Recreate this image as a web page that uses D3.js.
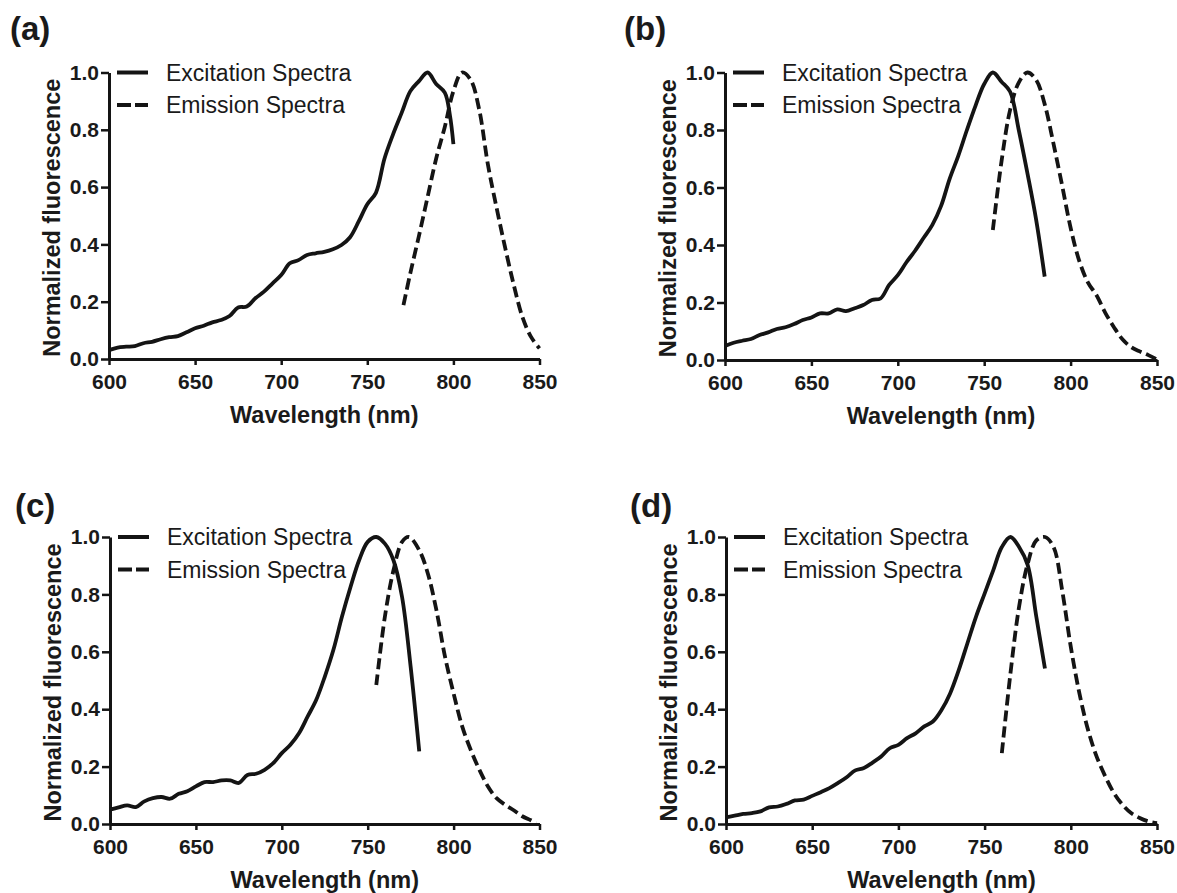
<!DOCTYPE html>
<html>
<head>
<meta charset="utf-8">
<script src="https://cdn.jsdelivr.net/npm/d3@7"></script>
<style>
  body { margin: 0; background: #fff; }
  text { font-family: "Liberation Sans", Arial, sans-serif; fill: #1a1a1a; }
</style>
</head>
<body>
<svg id="chart" width="1177" height="893"></svg>
<script>
// Tick values shared by all four panels
const xTicks = [600, 650, 700, 750, 800, 850];
const yTicks = [0.0, 0.2, 0.4, 0.6, 0.8, 1.0];
const seriesNames = ['Excitation Spectra', 'Emission Spectra'];

// Panel (a)
const exWlA = [600,605,610,615,620,625,630,635,640,645,650,655,660,665,670,675,680,685,690,695,700,705,710,715,720,725,730,735,740,745,750,755,760,765,770,775,780,785,790,795,798,800];
const exValA = [.031,.040,.043,.045,.055,.060,.069,.076,.080,.093,.107,.116,.128,.136,.150,.180,.183,.212,.235,.264,.293,.334,.345,.363,.369,.374,.383,.398,.425,.480,.540,.580,.700,.785,.860,.935,.970,1.0,.960,.930,.850,.750];
const emWlA = [771,775,780,785,790,795,800,805,810,815,820,825,830,835,840,845,850];
const emValA = [.188,.300,.430,.565,.700,.810,.935,1.0,.975,.870,.680,.530,.390,.260,.148,.078,.037];

// Panel (b)
const exWlB = [600,605,610,615,620,625,630,635,640,645,650,655,660,665,670,675,680,685,690,695,700,705,710,715,720,725,730,735,740,745,750,755,760,765,770,775,780,785];
const exValB = [.049,.060,.067,.073,.087,.096,.108,.114,.125,.139,.148,.162,.162,.176,.170,.180,.191,.209,.214,.261,.295,.340,.380,.425,.470,.535,.630,.710,.800,.885,.960,1.0,.968,.933,.800,.650,.490,.290];
const emWlB = [755,760,765,770,775,780,785,790,795,800,805,810,815,820,825,830,835,840,845,850];
const emValB = [.452,.690,.870,.965,1.0,.975,.890,.755,.610,.460,.345,.270,.225,.165,.115,.072,.045,.030,.017,.002];

// Panel (c)
const exWlC = [600,605,610,615,620,625,630,635,640,645,650,655,660,665,670,675,680,685,690,695,700,705,710,715,720,725,730,735,740,745,750,755,760,765,770,775,780];
const exValC = [.050,.058,.065,.059,.079,.090,.094,.088,.105,.114,.131,.146,.146,.152,.152,.143,.171,.175,.189,.212,.247,.276,.316,.374,.432,.513,.606,.722,.826,.919,.983,1.0,.977,.919,.791,.548,.253];
const emWlC = [755,760,765,770,774,780,785,790,795,800,805,810,815,820,825,830,835,840,845,848];
const emValC = [.484,.722,.884,.983,1.0,.954,.873,.745,.583,.455,.340,.258,.189,.131,.090,.067,.048,.027,.013,.003];

// Panel (d)
const exWlD = [600,605,610,615,620,625,630,635,640,645,650,655,660,665,670,675,680,685,690,695,700,705,710,715,720,725,730,735,740,745,750,755,760,765,770,775,780,785];
const exValD = [.023,.029,.035,.038,.044,.058,.061,.070,.082,.085,.098,.111,.125,.143,.163,.187,.195,.214,.235,.264,.276,.299,.316,.340,.357,.397,.455,.536,.629,.722,.803,.884,.965,1.0,.965,.902,.722,.542];
const emWlD = [760,765,770,775,780,785,790,795,800,805,810,815,820,825,830,835,840,845,850];
const emValD = [.247,.525,.757,.907,.988,1.0,.965,.814,.617,.455,.328,.235,.166,.108,.067,.038,.021,.009,.003];

// Where each panel sits on the page
const panels = [
    { label: '(a)', lx: 10, ly: 40, left: 109, right: 539.5, top: 72.5, bottom: 359,
      ex: [exWlA, exValA], em: [emWlA, emValA] },
    { label: '(b)', lx: 624, ly: 40, left: 725, right: 1157, top: 72.5, bottom: 360,
      ex: [exWlB, exValB], em: [emWlB, emValB] },
    { label: '(c)', lx: 15, ly: 517, left: 110, right: 539.5, top: 537, bottom: 824,
      ex: [exWlC, exValC], em: [emWlC, emValC] },
    { label: '(d)', lx: 630, ly: 517, left: 726, right: 1157, top: 537, bottom: 824,
      ex: [exWlD, exValD], em: [emWlD, emValD] }
];

const svg = d3.select('#chart');
const ink = '#141414';

function drawPanel(p) {
    const x = d3.scaleLinear().domain([600, 850]).range([p.left, p.right]);
    const y = d3.scaleLinear().domain([0, 1]).range([p.bottom, p.top]);
    const g = svg.append('g');

    // panel letter
    g.append('text')
        .attr('x', p.lx)
        .attr('y', p.ly)
        .attr('font-size', 33)
        .attr('font-weight', 'bold')
        .text(p.label);

    // y axis
    const yAxis = g.append('g')
        .attr('transform', `translate(${p.left},0)`)
        .call(d3.axisLeft(y).tickValues(yTicks).tickFormat(d3.format('.1f'))
            .tickSize(8).tickSizeOuter(0).tickPadding(2));

    // x axis
    const xAxis = g.append('g')
        .attr('transform', `translate(0,${p.bottom})`)
        .call(d3.axisBottom(x).tickValues(xTicks).tickFormat(d3.format('d'))
            .tickSize(6).tickSizeOuter(0).tickPadding(9));

    [yAxis, xAxis].forEach(ax => {
        ax.select('.domain').attr('stroke', ink).attr('stroke-width', 3);
        ax.selectAll('.tick line').attr('stroke', ink).attr('stroke-width', 2.5);
        ax.selectAll('.tick text')
            .attr('font-family', '"Liberation Sans", Arial, sans-serif')
            .attr('font-size', 21)
            .attr('font-weight', 'bold')
            .attr('fill', ink);
    });

    // axis titles
    g.append('text')
        .attr('x', (p.left + p.right) / 2)
        .attr('y', p.bottom + 64)
        .attr('text-anchor', 'middle')
        .attr('font-size', 23.5)
        .attr('font-weight', 'bold')
        .text('Wavelength (nm)');

    g.append('text')
        .attr('transform', `translate(${p.left - 49},${(p.top + p.bottom) / 2 + 2}) rotate(-90)`)
        .attr('text-anchor', 'middle')
        .attr('font-size', 23.5)
        .attr('font-weight', 'bold')
        .text('Normalized fluorescence');

    // curves
    const line = d3.line()
        .x(d => x(d[0]))
        .y(d => y(d[1]))
        .curve(d3.curveCatmullRom.alpha(0.5));

    const exPts = d3.zip(p.ex[0], p.ex[1]);
    const emPts = d3.zip(p.em[0], p.em[1]);

    g.append('path')
        .datum(exPts)
        .attr('d', line)
        .attr('fill', 'none')
        .attr('stroke', ink)
        .attr('stroke-width', 3.8)
        .attr('stroke-linejoin', 'round');

    g.append('path')
        .datum(emPts)
        .attr('d', line)
        .attr('fill', 'none')
        .attr('stroke', ink)
        .attr('stroke-width', 3.8)
        .attr('stroke-dasharray', '11,5');

    // legend
    const legend = g.append('g');
    seriesNames.forEach((name, i) => {
        const ly = p.top + i * 32.5;
        legend.append('line')
            .attr('x1', p.left + 8)
            .attr('x2', p.left + 39)
            .attr('y1', ly)
            .attr('y2', ly)
            .attr('stroke', ink)
            .attr('stroke-width', 4)
            .attr('stroke-dasharray', i === 0 ? null : '14,4');
        legend.append('text')
            .attr('x', p.left + 57)
            .attr('y', ly)
            .attr('dy', '0.35em')
            .attr('font-size', 23)
            .text(name);
    });
}

panels.forEach(drawPanel);
</script>
</body>
</html>
